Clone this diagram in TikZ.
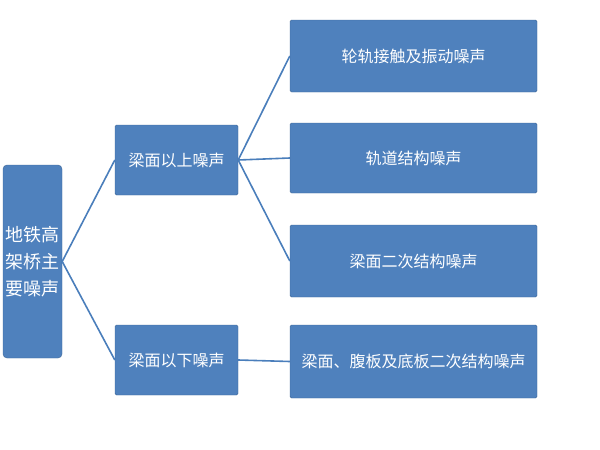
\documentclass[tikz,border=0pt]{standalone}
\usepackage{fontspec}
\setmainfont{Noto Sans CJK SC}
\definecolor{boxblue}{HTML}{4F81BD}
\definecolor{lineblue}{HTML}{4A7EBB}
\begin{document}
\begin{tikzpicture}[x=1pt,y=-1pt,
  bx/.style={draw=boxblue!80!black,fill=boxblue,text=white,inner sep=0pt,font=\fontsize{16}{20}\selectfont,rounded corners=1.5pt},
  ln/.style={draw=lineblue,line width=1.6pt}]
\useasboundingbox (0,0) rectangle (600,450);
\node[bx,minimum width=59pt,minimum height=193pt,rounded corners=4pt,align=center,font=\fontsize{18}{27}\selectfont] (root) at (32.5,261.5) {地铁高\\架桥主\\要噪声};
\node[bx,minimum width=123pt,minimum height=70pt] (a) at (176.5,160) {梁面以上噪声};
\node[bx,minimum width=123pt,minimum height=70pt] (b) at (176.5,360) {梁面以下噪声};
\node[bx,minimum width=247pt,minimum height=72pt] (c1) at (413.5,56) {轮轨接触及振动噪声};
\node[bx,minimum width=247pt,minimum height=70pt] (c2) at (413.5,158) {轨道结构噪声};
\node[bx,minimum width=247pt,minimum height=72pt] (c3) at (413.5,261) {梁面二次结构噪声};
\node[bx,minimum width=247pt,minimum height=73pt] (c4) at (413.5,361.5) {梁面、腹板及底板二次结构噪声};
\draw[ln] (root.east) -- (a.west);
\draw[ln] (root.east) -- (b.west);
\draw[ln] (a.east) -- (c1.west);
\draw[ln] (a.east) -- (c2.west);
\draw[ln] (a.east) -- (c3.west);
\draw[ln] (b.east) -- (c4.west);
\end{tikzpicture}
\end{document}
